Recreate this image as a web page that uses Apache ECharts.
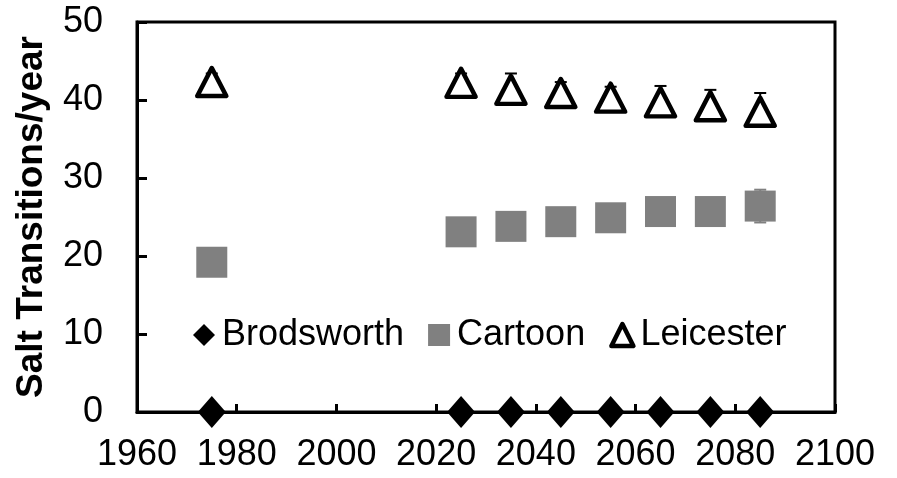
<!DOCTYPE html>
<html>
<head>
<meta charset="utf-8">
<script src="https://cdn.jsdelivr.net/npm/echarts@6/dist/echarts.min.js"></script>
<style>
  html, body { margin: 0; padding: 0; background: #fff; }
  #chart { width: 897px; height: 478px; }
</style>
</head>
<body>
<div id="chart"></div>
<script>
// years and series values
var years = [1975, 2025, 2035, 2045, 2055, 2065, 2075, 2085];
var brodsworth = [0, 0, 0, 0, 0, 0, 0, 0];
var cartoon = [19.2, 23.1, 23.8, 24.4, 24.9, 25.7, 25.7, 26.4];
var cartoonErr = [1.5, 1.5, 1.5, 1.5, 1.5, 1.5, 1.5, 2.1];
var leicester = [42.3, 42.2, 41.3, 40.9, 40.3, 39.7, 39.2, 38.5];
var leicesterErr = [1.1, 1.2, 2.1, 1.4, 1.4, 2.1, 2.1, 2.4];
var xTicks = { min: 1960, max: 2100, step: 20 };
var yTicks = { min: 0, max: 50, step: 10 };

var FONT = '"Liberation Sans", Arial, sans-serif';

function pairs(vals) {
    return years.map(function (y, i) { return [y, vals[i]]; });
}

// [x, low, high]; plusOnly keeps the low end at the value
function errData(vals, errs, plusOnly) {
    return years.map(function (y, i) {
        return [y, plusOnly ? vals[i] : vals[i] - errs[i], vals[i] + errs[i]];
    });
}

function errorBars(color, lowCap) {
    return function (params, api) {
        var lo = api.coord([api.value(0), api.value(1)]);
        var hi = api.coord([api.value(0), api.value(2)]);
        var w = 6;
        var st = { stroke: color, lineWidth: 2 };
        var kids = [
            { type: 'line', shape: { x1: lo[0], y1: lo[1], x2: hi[0], y2: hi[1] }, style: st },
            { type: 'line', shape: { x1: hi[0] - w, y1: hi[1], x2: hi[0] + w, y2: hi[1] }, style: st }
        ];
        if (lowCap) {
            kids.push({ type: 'line', shape: { x1: lo[0] - w, y1: lo[1], x2: lo[0] + w, y2: lo[1] }, style: st });
        }
        return { type: 'group', children: kids };
    };
}

var myChart = echarts.init(document.getElementById('chart'));

var option = {
    animation: false,
    textStyle: { fontFamily: FONT },
    grid: {
        left: 137, right: 62, top: 22, bottom: 66,
        show: true, borderColor: '#000', borderWidth: 3
    },
    legend: {
        left: 188,
        top: 312,
        itemWidth: 22,
        itemHeight: 22,
        itemGap: 24,
        textStyle: { fontSize: 36, color: '#000', fontFamily: FONT, padding: [0, 0, 0, 2] },
        data: [
            { name: 'Brodsworth', icon: 'diamond', itemStyle: { color: '#000' } },
            { name: 'Cartoon', icon: 'rect', itemStyle: { color: '#808080' } },
            { name: 'Leicester', icon: 'triangle', itemStyle: { color: '#fff', borderColor: '#000', borderWidth: 4.5 } }
        ]
    },
    xAxis: {
        type: 'value',
        min: xTicks.min, max: xTicks.max, interval: xTicks.step,
        splitLine: { show: false },
        axisLine: { lineStyle: { color: '#000', width: 3 } },
        axisTick: { inside: true, length: 8, lineStyle: { color: '#000', width: 3 } },
        axisLabel: { fontSize: 36, color: '#000', margin: 25, fontFamily: FONT, formatter: function (v) { return String(v); } }
    },
    yAxis: {
        type: 'value',
        min: yTicks.min, max: yTicks.max, interval: yTicks.step,
        name: 'Salt Transitions/year',
        nameLocation: 'middle',
        nameRotate: 90,
        nameGap: 87,
        nameTextStyle: { fontSize: 37, fontWeight: 'bold', color: '#000', fontFamily: FONT },
        splitLine: { show: false },
        axisLine: { lineStyle: { color: '#000', width: 3 } },
        axisTick: { inside: true, length: 10, lineStyle: { color: '#000', width: 3 } },
        axisLabel: { fontSize: 36, color: '#000', margin: 34, fontFamily: FONT }
    },
    series: [
        {
            name: 'Cartoon err',
            type: 'custom',
            renderItem: errorBars('#808080', true),
            data: errData(cartoon, cartoonErr, false),
            z: 1,
            silent: true
        },
        {
            name: 'Leicester err',
            type: 'custom',
            renderItem: errorBars('#000', false),
            data: errData(leicester, leicesterErr, true),
            z: 1,
            silent: true
        },
        {
            name: 'Brodsworth',
            type: 'scatter',
            symbol: 'diamond',
            symbolSize: [28, 32],
            itemStyle: { color: '#000', opacity: 1 },
            data: pairs(brodsworth),
            clip: false,
            z: 5
        },
        {
            name: 'Cartoon',
            type: 'scatter',
            symbol: 'rect',
            symbolSize: 31,
            itemStyle: { color: '#808080', opacity: 1 },
            data: pairs(cartoon),
            z: 3
        },
        {
            name: 'Leicester',
            type: 'scatter',
            symbol: 'triangle',
            symbolSize: [29, 28],
            itemStyle: { color: '#fff', borderColor: '#000', borderWidth: 4.5, borderJoin: 'round', opacity: 1 },
            data: pairs(leicester),
            z: 3
        }
    ]
};

myChart.setOption(option);
</script>
</body>
</html>
